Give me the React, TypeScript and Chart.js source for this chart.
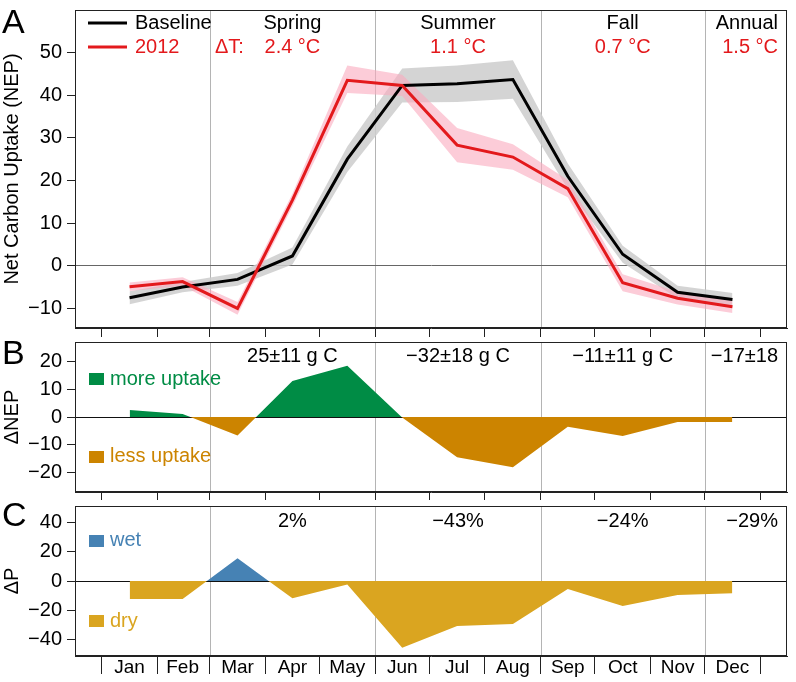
import React, { useEffect, useRef } from "react";
import { Chart, registerables } from "chart.js";
Chart.register(...registerables);

// ---------- data ----------
const months = ["Jan", "Feb", "Mar", "Apr", "May", "Jun", "Jul", "Aug", "Sep", "Oct", "Nov", "Dec"];
const monthStarts = [0, 31, 60, 91, 121, 152, 182, 213, 244, 274, 305, 335, 366];
const monthMid = [15.5, 45, 75.5, 106, 136.5, 167, 197.5, 228.5, 259, 289.5, 320, 350.5];
const seasonStarts = [60, 152, 244, 335];
const seasonNames = ["Spring", "Summer", "Fall", "Annual"];
const deltaTText = ["2.4 °C", "1.1 °C", "0.7 °C", "1.5 °C"];
const deltaNEPText = ["25±11 g C", "−32±18 g C", "−11±11 g C", "−17±18"];
const deltaPText = ["2%", "−43%", "−24%", "−29%"];

const baseline = [-7.5, -5.0, -3.2, 2.3, 25.0, 42.3, 42.7, 43.7, 21.0, 2.7, -6.2, -7.9];
const baselineLo = [-9.0, -6.2, -4.7, 0.3, 22.0, 38.3, 38.4, 39.2, 18.0, 0.7, -7.7, -9.4];
const baselineHi = [-6.0, -3.8, -1.7, 4.3, 28.0, 46.3, 47.0, 48.2, 24.0, 4.7, -4.7, -6.4];
const y2012 = [-4.9, -3.7, -10.0, 15.4, 43.5, 42.3, 28.3, 25.5, 18.1, -4.0, -7.6, -9.6];
const y2012Lo = [-5.9, -4.7, -11.5, 13.9, 40.5, 39.8, 24.3, 22.5, 16.1, -6.0, -9.1, -11.1];
const y2012Hi = [-3.9, -2.7, -8.5, 16.9, 47.0, 44.8, 32.3, 28.5, 20.1, -2.0, -6.1, -8.1];
const deltaNEP = [2.5, 1.1, -6.7, 13.0, 18.5, -0.2, -14.5, -18.2, -3.5, -6.9, -1.8, -1.8];
const deltaP = [-12.2, -12.2, 15.4, -11.8, -2.3, -45.4, -30.6, -29.3, -5.4, -17.0, -9.5, -8.4];

const ticksA = [-10, 0, 10, 20, 30, 40, 50];
const ticksB = [-20, -10, 0, 10, 20];
const ticksC = [-40, -20, 0, 20, 40];

// ---------- styles ----------
const FONT = "'Liberation Sans', Arial, Helvetica, sans-serif";
const FS = 20;
const RED = "#e3191c";
const GREEN = "#008c45";
const ORANGE = "#cc8400";
const BLUE = "#4682b4";
const GOLD = "#daa520";
const X_MIN = -14.8;
const X_MAX = 380.8;

const pts = (ys: number[]) => ys.map((y, i) => ({ x: monthMid[i], y }));
const minus = (v: any) => (Number(v) < 0 ? "\u2212" + Math.abs(Number(v)) : String(v));

function txt(ctx: CanvasRenderingContext2D, s: string, x: number, y: number, color: string, align: CanvasTextAlign, size = FS) {
  ctx.save();
  ctx.font = `${size}px ${FONT}`;
  ctx.fillStyle = color;
  ctx.textAlign = align;
  ctx.textBaseline = "alphabetic";
  ctx.fillText(s, x, y);
  ctx.restore();
}

function drawBox(ctx: CanvasRenderingContext2D, a: any) {
  ctx.save();
  ctx.strokeStyle = "#222";
  ctx.lineWidth = 1;
  ctx.strokeRect(a.left + 0.5, a.top + 0.5, a.right - a.left - 1, a.bottom - a.top - 1);
  ctx.restore();
}

const seasonLines = {
  id: "seasonLines",
  beforeDraw(chart: any) {
    const { ctx, chartArea: a } = chart;
    const xs = chart.scales.x;
    ctx.save();
    ctx.strokeStyle = "#b4b4b4";
    ctx.lineWidth = 1;
    for (const d of seasonStarts) {
      const px = Math.round(xs.getPixelForValue(d)) + 0.5;
      ctx.beginPath();
      ctx.moveTo(px, a.top);
      ctx.lineTo(px, a.bottom);
      ctx.stroke();
    }
    ctx.restore();
  },
};

function seasonCenters(chart: any) {
  const xs = chart.scales.x;
  return [0, 1, 2].map((i) => xs.getPixelForValue((seasonStarts[i] + seasonStarts[i + 1]) / 2));
}

const xAxis = (tickLen: number, height: number) => ({
  type: "linear",
  min: X_MIN,
  max: X_MAX,
  afterBuildTicks: (s: any) => {
    s.ticks = monthStarts.map((v) => ({ value: v }));
  },
  ticks: { display: false },
  grid: { drawOnChartArea: false, drawTicks: true, tickLength: tickLen, tickColor: "#222", tickWidth: 1 },
  border: { display: true, color: "#222", width: 1 },
  afterFit: (s: any) => {
    s.height = height;
    s.paddingLeft = 0;
    s.paddingRight = 0;
  },
});

const yAxis = (min: number, max: number, ticks: number[], title: string, zeroColor: string, z: number) => ({
  min,
  max,
  z,
  afterBuildTicks: (s: any) => {
    s.ticks = ticks.map((v) => ({ value: v }));
  },
  ticks: { font: { family: FONT, size: FS }, color: "#000", padding: 5, callback: minus },
  grid: {
    color: (c: any) => (c.tick && c.tick.value === 0 ? zeroColor : "rgba(0,0,0,0)"),
    tickColor: "#222",
    tickLength: 8,
    lineWidth: 1,
  },
  border: { display: true, color: "#222", width: 1 },
  title: { display: true, text: title, font: { family: FONT, size: FS }, color: "#000", padding: 0 },
  afterFit: (s: any) => {
    s.width = 75;
    s.paddingTop = 0;
    s.paddingBottom = 0;
  },
});

const commonOpts = {
  responsive: false,
  animation: false,
  devicePixelRatio: 1,
  events: [],
  elements: { point: { radius: 0 }, line: { tension: 0 } },
};

function configA(): any {
  const textA = {
    id: "textA",
    afterDraw(chart: any) {
      const { ctx, chartArea: a } = chart;
      drawBox(ctx, a);
      ctx.save();
      ctx.lineWidth = 3;
      ctx.strokeStyle = "#000";
      ctx.beginPath();
      ctx.moveTo(88, 23);
      ctx.lineTo(127, 23);
      ctx.stroke();
      ctx.strokeStyle = RED;
      ctx.beginPath();
      ctx.moveTo(88, 47);
      ctx.lineTo(127, 47);
      ctx.stroke();
      ctx.restore();
      txt(ctx, "Baseline", 135, 29, "#000", "left");
      txt(ctx, "2012", 135, 53, RED, "left");
      txt(ctx, "\u0394T:", 215, 53, RED, "left");
      const cs = seasonCenters(chart);
      cs.forEach((cx, i) => {
        txt(ctx, seasonNames[i], cx, 29, "#000", "center");
        txt(ctx, deltaTText[i], cx, 53, RED, "center");
      });
      txt(ctx, seasonNames[3], a.right - 9, 29, "#000", "right");
      txt(ctx, deltaTText[3], a.right - 9, 53, RED, "right");
      txt(ctx, "A", 2, 33, "#000", "left", 34);
    },
  };
  return {
    type: "line",
    data: {
      datasets: [
        { data: pts(y2012), borderColor: RED, borderWidth: 3, fill: false },
        { data: pts(baseline), borderColor: "#000", borderWidth: 3, fill: false },
        { data: pts(y2012Hi), borderColor: "rgba(0,0,0,0)", borderWidth: 0, fill: "+1", backgroundColor: "rgba(250,170,190,0.6)" },
        { data: pts(y2012Lo), borderColor: "rgba(0,0,0,0)", borderWidth: 0, fill: false },
        { data: pts(baselineHi), borderColor: "rgba(0,0,0,0)", borderWidth: 0, fill: "+1", backgroundColor: "rgba(205,205,205,0.85)" },
        { data: pts(baselineLo), borderColor: "rgba(0,0,0,0)", borderWidth: 0, fill: false },
      ],
    },
    options: {
      ...commonOpts,
      layout: { padding: { top: 10, right: 9, left: 0, bottom: 0 } },
      plugins: { legend: { display: false }, tooltip: { enabled: false }, filler: { drawTime: "beforeDatasetsDraw", propagate: false } },
      scales: { x: xAxis(9, 12), y: yAxis(-14.6, 60, ticksA, "Net Carbon Uptake (NEP)", "#666", 0) },
    },
    plugins: [seasonLines, textA],
  };
}

function configB(): any {
  const textB = {
    id: "textB",
    afterDraw(chart: any) {
      const { ctx, chartArea: a } = chart;
      drawBox(ctx, a);
      const cs = seasonCenters(chart);
      cs.forEach((cx, i) => txt(ctx, deltaNEPText[i], cx, 22, "#000", "center"));
      txt(ctx, deltaNEPText[3], a.right - 9, 22, "#000", "right");
      ctx.save();
      ctx.fillStyle = GREEN;
      ctx.fillRect(89, 33, 15, 12);
      ctx.fillStyle = ORANGE;
      ctx.fillRect(89, 111, 15, 12);
      ctx.restore();
      txt(ctx, "more uptake", 110, 45, GREEN, "left");
      txt(ctx, "less uptake", 110, 122, ORANGE, "left");
      txt(ctx, "B", 2, 24, "#000", "left", 34);
    },
  };
  return {
    type: "line",
    data: {
      datasets: [
        { data: pts(deltaNEP), borderColor: "rgba(0,0,0,0)", borderWidth: 0, fill: { target: "origin", above: GREEN, below: ORANGE } },
      ],
    },
    options: {
      ...commonOpts,
      layout: { padding: { top: 2, right: 9, left: 0, bottom: 0 } },
      plugins: { legend: { display: false }, tooltip: { enabled: false }, filler: { drawTime: "beforeDatasetsDraw", propagate: false } },
      scales: { x: xAxis(8, 8), y: yAxis(-27.1, 27.1, ticksB, "\u0394NEP", "#111", 1) },
    },
    plugins: [seasonLines, textB],
  };
}

function configC(): any {
  const allTicks: number[] = [];
  monthStarts.forEach((v, i) => {
    allTicks.push(v);
    if (i < monthMid.length) allTicks.push(monthMid[i]);
  });
  const textC = {
    id: "textC",
    afterDraw(chart: any) {
      const { ctx, chartArea: a } = chart;
      drawBox(ctx, a);
      const cs = seasonCenters(chart);
      cs.forEach((cx, i) => txt(ctx, deltaPText[i], cx, 27, "#000", "center"));
      txt(ctx, deltaPText[3], a.right - 9, 27, "#000", "right");
      ctx.save();
      ctx.fillStyle = BLUE;
      ctx.fillRect(89, 35, 15, 12);
      ctx.fillStyle = GOLD;
      ctx.fillRect(89, 115, 15, 12);
      ctx.restore();
      txt(ctx, "wet", 110, 46, BLUE, "left");
      txt(ctx, "dry", 110, 127, GOLD, "left");
      txt(ctx, "C", 2, 26, "#000", "left", 34);
    },
  };
  const x: any = xAxis(18, 26);
  x.afterBuildTicks = (s: any) => {
    s.ticks = allTicks.map((v) => ({ value: v }));
  };
  x.ticks = {
    display: true,
    autoSkip: false,
    maxRotation: 0,
    minRotation: 0,
    padding: -18,
    font: { family: FONT, size: 19 },
    color: "#000",
    callback: (_v: any, i: number) => (i % 2 === 1 ? months[(i - 1) / 2] : ""),
  };
  x.grid = {
    drawOnChartArea: false,
    drawTicks: true,
    tickLength: 18,
    tickWidth: 1,
    tickColor: (c: any) => (c.index % 2 === 0 ? "#222" : "rgba(0,0,0,0)"),
  };
  return {
    type: "line",
    data: {
      datasets: [
        { data: pts(deltaP), borderColor: "rgba(0,0,0,0)", borderWidth: 0, fill: { target: "origin", above: BLUE, below: GOLD } },
      ],
    },
    options: {
      ...commonOpts,
      layout: { padding: { top: 6, right: 9, left: 0, bottom: 0 } },
      plugins: { legend: { display: false }, tooltip: { enabled: false }, filler: { drawTime: "beforeDatasetsDraw", propagate: false } },
      scales: { x, y: yAxis(-51, 51, ticksC, "\u0394P", "#111", 1) },
    },
    plugins: [seasonLines, textC],
  };
}

export default function App() {
  const r1 = useRef<HTMLCanvasElement>(null);
  const r2 = useRef<HTMLCanvasElement>(null);
  const r3 = useRef<HTMLCanvasElement>(null);
  useEffect(() => {
    const c1 = new Chart(r1.current as HTMLCanvasElement, configA());
    const c2 = new Chart(r2.current as HTMLCanvasElement, configB());
    const c3 = new Chart(r3.current as HTMLCanvasElement, configC());
    return () => {
      c1.destroy();
      c2.destroy();
      c3.destroy();
    };
  }, []);
  return (
    <div style={{ position: "absolute", left: 0, top: 0, width: 796, height: 682, background: "#fff" }}>
      <canvas ref={r1} width={796} height={340} style={{ position: "absolute", left: 0, top: 0, width: 796, height: 340 }} />
      <canvas ref={r2} width={796} height={160} style={{ position: "absolute", left: 0, top: 340, width: 796, height: 160 }} />
      <canvas ref={r3} width={796} height={182} style={{ position: "absolute", left: 0, top: 500, width: 796, height: 182 }} />
    </div>
  );
}
